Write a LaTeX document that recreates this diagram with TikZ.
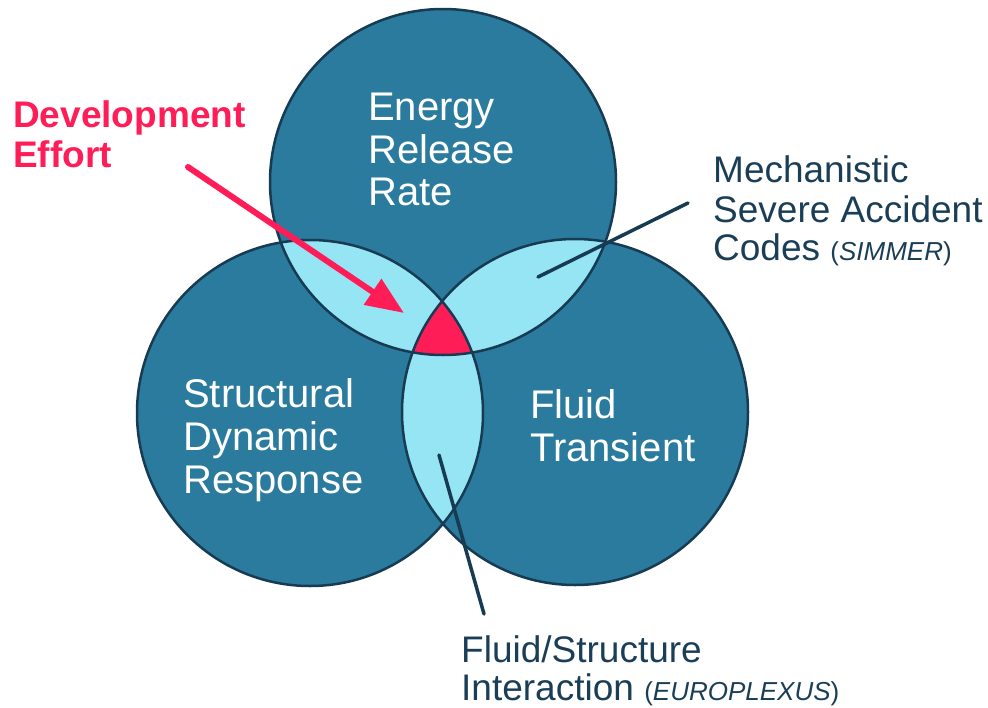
\documentclass[tikz,border=0pt]{standalone}
\usepackage{fontspec}
\setmainfont{Liberation Sans}
\usetikzlibrary{arrows.meta}
\definecolor{teal1}{HTML}{2A7B9D}
\definecolor{edge1}{HTML}{173B52}
\definecolor{lens1}{HTML}{95E5F5}
\definecolor{hot1}{HTML}{FF1D58}
\definecolor{navy1}{HTML}{1B3E57}
\tikzset{
  disc/.style={fill=teal1},
  rim/.style={draw=edge1,line width=2.5pt},
  intext/.style={anchor=base west,inner sep=0pt,text=white,font=\fontsize{40}{44}\selectfont},
  outtext/.style={anchor=base west,inner sep=0pt,text=navy1,font=\fontsize{37}{40}\selectfont},
  devtext/.style={anchor=base west,inner sep=0pt,text=hot1,font=\fontsize{37}{40}\selectfont\bfseries},
  leader/.style={draw=edge1,line width=3.5pt,line cap=round},
  pointer/.style={draw=hot1,line width=6pt,line cap=round,-{Triangle[length=38pt,width=30pt]}},
}
\newcommand{\smallparen}[1]{{\fontsize{26}{28}\selectfont(\textit{#1})}}
\begin{document}
\begin{tikzpicture}[x=1pt,y=-1pt]
\useasboundingbox (0,0) rectangle (988,707);
\coordinate (cT) at (443,182);
\coordinate (cL) at (310,413);
\coordinate (cR) at (575,412);
\def\rad{173}
% discs
\fill[disc] (cT) circle[radius=\rad];
\fill[disc] (cL) circle[radius=\rad];
\fill[disc] (cR) circle[radius=\rad];
% pairwise lenses
\begin{scope}
  \clip (cT) circle[radius=\rad];
  \fill[lens1] (cL) circle[radius=\rad];
  \fill[lens1] (cR) circle[radius=\rad];
\end{scope}
\begin{scope}
  \clip (cL) circle[radius=\rad];
  \fill[lens1] (cR) circle[radius=\rad];
\end{scope}
% triple intersection
\begin{scope}
  \clip (cT) circle[radius=\rad];
  \clip (cL) circle[radius=\rad];
  \fill[hot1] (cR) circle[radius=\rad];
\end{scope}
% outlines
\draw[rim] (cT) circle[radius=\rad];
\draw[rim] (cL) circle[radius=\rad];
\draw[rim] (cR) circle[radius=\rad];
% circle labels
\node[intext] (e1) at (368,120) {Energy};
\node[intext] (e2) at (368,163) {Release};
\node[intext] (e3) at (368,205) {Rate};
\node[intext] (s1) at (183,407) {Structural};
\node[intext] (s2) at (183,450) {Dynamic};
\node[intext] (s3) at (183,493) {Response};
\node[intext] (f1) at (530,418) {Fluid};
\node[intext] (f2) at (530,461) {Transient};
% outside labels
\node[outtext] (m1) at (713,182) {Mechanistic};
\node[outtext] (m2) at (713,222) {Severe Accident};
\node[outtext] (m3) at (713,260) {Codes \smallparen{SIMMER}};
\node[outtext] (i1) at (461,662) {Fluid/Structure};
\node[outtext] (i2) at (461,700) {Interaction \smallparen{EUROPLEXUS}};
\node[devtext] (d1) at (13,127) {Development};
\node[devtext] (d2) at (13,167) {Effort};
% leaders
\coordinate (simA) at (538,277);
\coordinate (simB) at (688,203);
\draw[leader] (simA) -- (simB);
\coordinate (eurA) at (439,455);
\coordinate (eurB) at (484,614);
\draw[leader] (eurA) -- (eurB);
\coordinate (devA) at (188,167);
\coordinate (devB) at (404,313);
\draw[pointer] (devA) -- (devB);
\end{tikzpicture}
\end{document}
